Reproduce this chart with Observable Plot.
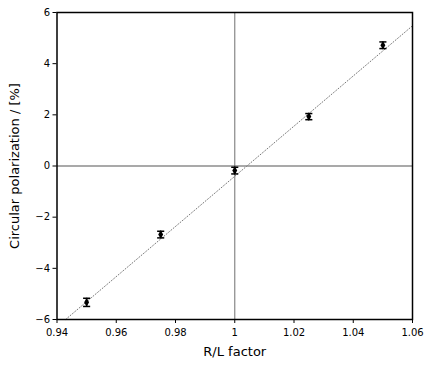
<!DOCTYPE html>
<html><head><meta charset="utf-8">
<script src="https://cdn.jsdelivr.net/npm/d3@7"></script>
<script src="https://cdn.jsdelivr.net/npm/@observablehq/plot@0.6"></script>
<style>body{margin:0;background:#fff}</style>
</head><body><div id="chart"></div>
<script>
const rlFactor = [0.95, 0.975, 1.0, 1.025, 1.05];
const polarization = [-5.33, -2.68, -0.18, 1.93, 4.72];
const polErr = [0.16, 0.13, 0.13, 0.12, 0.13];
const fitX = [0.9429, 1.06];
const fitY = [-6, 5.48];
const xTicks = [0.94, 0.96, 0.98, 1.0, 1.02, 1.04, 1.06];
const yTicks = [-6, -4, -2, 0, 2, 4, 6];
const capHalf = 0.0012;

const pts = rlFactor.map((x, i) => ({x, y: polarization[i], e: polErr[i]}));
const fit = fitX.map((x, i) => ({x, y: fitY[i]}));
const fmtX = d => String(+d.toFixed(2));

const chart = Plot.plot({
  width: 436, height: 365,
  marginLeft: 56.5, marginRight: 24, marginTop: 12, marginBottom: 46,
  style: {fontFamily: "DejaVu Sans", fontSize: "10px", background: "#fff", color: "#000"},
  x: {domain: [0.94, 1.06]},
  y: {domain: [-6, 6]},
  marks: [
    Plot.ruleX([1], {stroke: "#888", strokeWidth: 1.2}),
    Plot.ruleY([0], {stroke: "#555", strokeWidth: 1.2}),
    Plot.line(fit, {x: "x", y: "y", stroke: "#777", strokeWidth: 1, strokeDasharray: "1,2"}),
    Plot.ruleX(pts, {x: "x", y1: d => d.y - d.e, y2: d => d.y + d.e, stroke: "#000", strokeWidth: 1.5}),
    Plot.link(pts, {x1: d => d.x - capHalf, x2: d => d.x + capHalf, y1: d => d.y - d.e, y2: d => d.y - d.e, stroke: "#000", strokeWidth: 1.5}),
    Plot.link(pts, {x1: d => d.x - capHalf, x2: d => d.x + capHalf, y1: d => d.y + d.e, y2: d => d.y + d.e, stroke: "#000", strokeWidth: 1.5}),
    Plot.dot(pts, {x: "x", y: "y", symbol: "diamond", r: 2.6, fill: "#000", stroke: "none"}),
    Plot.axisX({ticks: xTicks, tickFormat: fmtX, tickSize: 4, tickPadding: 5, label: null}),
    Plot.axisY({ticks: yTicks, tickSize: 4, tickPadding: 3, label: null}),
    Plot.frame({stroke: "#000", strokeWidth: 1.5}),
    Plot.text(["R/L factor"], {frameAnchor: "bottom", dy: 32, lineAnchor: "middle", textAnchor: "middle", fontSize: 13}),
    Plot.text(["Circular polarization / [%]"], {frameAnchor: "left", dx: -42, rotate: -90, lineAnchor: "middle", textAnchor: "middle", fontSize: 13})
  ]
});
document.getElementById("chart").appendChild(chart);
</script>
</body></html>
